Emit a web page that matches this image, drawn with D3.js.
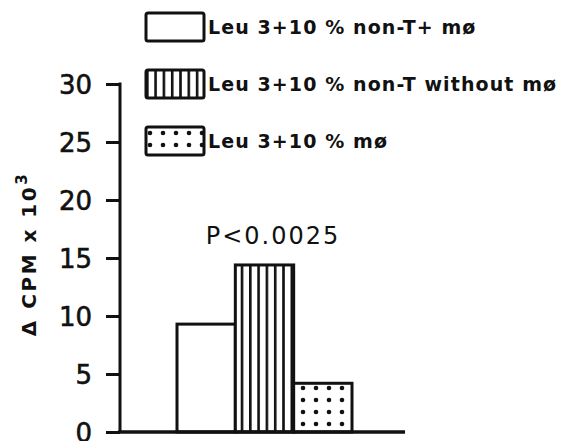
<!DOCTYPE html>
<html>
<head>
<meta charset="utf-8">
<script src="https://cdn.jsdelivr.net/npm/d3@7"></script>
<style>
  body { margin: 0; background: #fff; }
  svg { display: block; }
  text { fill: #111; font-family: "DejaVu Sans", sans-serif; }
</style>
</head>
<body>
<div id="chart"></div>
<script>
const categories = ["Leu 3+10 % non-T+ mø", "Leu 3+10 % non-T without mø", "Leu 3+10 % mø"];
const values = [9.3, 14.4, 4.2];
const fills = ["white", "url(#stripes)", "url(#dots)"];
const yTicks = [0, 5, 10, 15, 20, 25, 30];
const annotation = "P<0.0025";

const width = 563;
const height = 441;

const svg = d3.select("#chart")
  .append("svg")
  .attr("width", width)
  .attr("height", height);

const defs = svg.append("defs");

const stripes = defs.append("pattern")
  .attr("id", "stripes")
  .attr("patternUnits", "userSpaceOnUse")
  .attr("width", 8.3)
  .attr("height", 10);
stripes.append("rect").attr("width", 8.3).attr("height", 10).attr("fill", "white");
stripes.append("rect").attr("x", 0).attr("width", 2.6).attr("height", 10).attr("fill", "#111");

const dots = defs.append("pattern")
  .attr("id", "dots")
  .attr("patternUnits", "userSpaceOnUse")
  .attr("width", 13)
  .attr("height", 12);
dots.append("rect").attr("width", 13).attr("height", 12).attr("fill", "white");
dots.append("circle").attr("cx", 4).attr("cy", 4).attr("r", 2.3).attr("fill", "#111");

const y = d3.scaleLinear()
  .domain([0, 30])
  .range([432, 84]);

const x = d3.scaleBand()
  .domain(categories)
  .range([177, 352])
  .padding(0);

// y axis
const yAxis = svg.append("g")
  .attr("transform", "translate(120,0)")
  .call(d3.axisLeft(y).tickValues(yTicks).tickSize(14).tickPadding(14));

yAxis.select(".domain").remove();
yAxis.selectAll(".tick line").attr("stroke", "#111").attr("stroke-width", 3);
yAxis.selectAll(".tick text")
  .attr("font-size", 26)
  .attr("dy", "0.36em")
  .attr("fill", "#111")
  .attr("stroke", "#111")
  .attr("stroke-width", 0.6);

svg.append("line")
  .attr("x1", 120).attr("x2", 120)
  .attr("y1", y(30) - 1.5).attr("y2", y(0))
  .attr("stroke", "#111").attr("stroke-width", 3);

// bars
svg.selectAll(".bar")
  .data(categories)
  .enter()
  .append("rect")
  .attr("class", "bar")
  .attr("x", d => x(d))
  .attr("y", (d, i) => y(values[i]))
  .attr("width", x.bandwidth())
  .attr("height", (d, i) => y(0) - y(values[i]))
  .attr("fill", (d, i) => fills[i])
  .attr("stroke", "#111")
  .attr("stroke-width", 3);

// baseline
svg.append("line")
  .attr("x1", 118).attr("x2", 405)
  .attr("y1", y(0)).attr("y2", y(0))
  .attr("stroke", "#111").attr("stroke-width", 3.5);

// annotation
svg.append("text")
  .attr("x", 273)
  .attr("y", 244)
  .attr("text-anchor", "middle")
  .attr("font-size", 24)
  .attr("letter-spacing", 2)
  .text(annotation);

// y label
const ylab = svg.append("text")
  .attr("transform", "translate(36,254) rotate(-90)")
  .attr("text-anchor", "middle")
  .attr("font-size", 20)
  .attr("font-weight", "bold")
  .attr("letter-spacing", 2.5);
ylab.append("tspan").text("Δ CPM x 10");
ylab.append("tspan").attr("dy", -9).attr("font-size", 15).text("3");

// legend
const legend = svg.selectAll(".legend")
  .data(categories)
  .enter()
  .append("g")
  .attr("class", "legend")
  .attr("transform", (d, i) => `translate(146,${27 + i * 57})`);

legend.append("rect")
  .attr("x", 0)
  .attr("y", -14)
  .attr("width", 58)
  .attr("height", 28)
  .attr("rx", 2)
  .attr("fill", (d, i) => fills[i])
  .attr("stroke", "#111")
  .attr("stroke-width", 3);

legend.append("text")
  .attr("x", 62)
  .attr("y", 0)
  .attr("dy", "0.36em")
  .attr("font-size", 19)
  .attr("font-weight", "bold")
  .attr("letter-spacing", 1.1)
  .text(d => d);
</script>
</body>
</html>
